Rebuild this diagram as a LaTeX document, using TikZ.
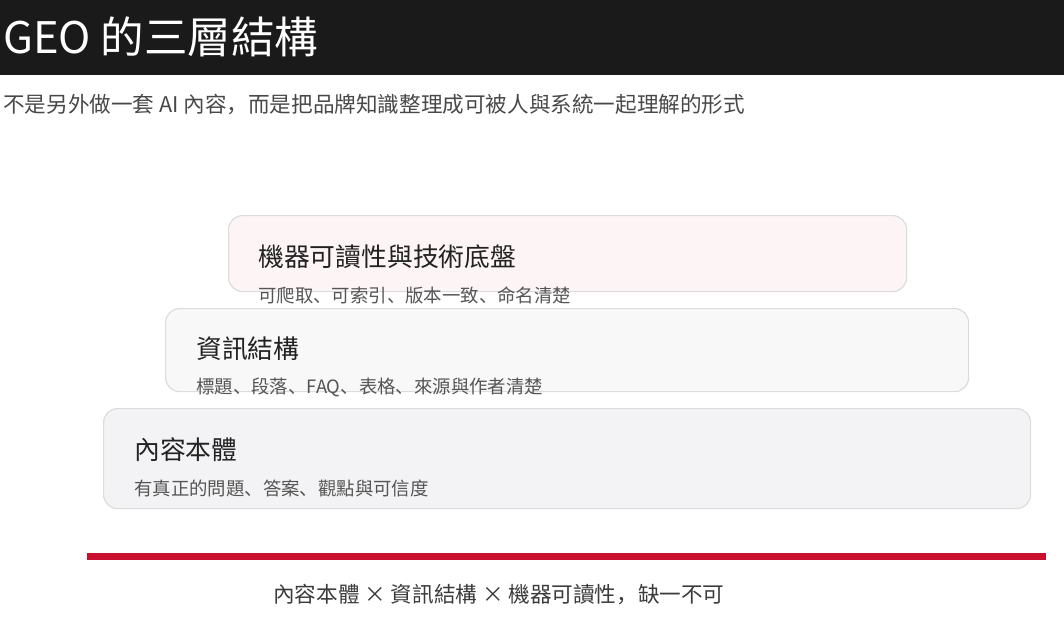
\documentclass[tikz,border=0pt]{standalone}
\usepackage{fontspec}
\setmainfont{Noto Sans CJK SC}
\usepackage{tikz}
\usetikzlibrary{positioning}

\definecolor{barblack}{HTML}{1A1A1A}
\definecolor{titlegray}{HTML}{222222}
\definecolor{notegray}{HTML}{555555}
\definecolor{edgegray}{HTML}{DCDCDC}
\definecolor{topfill}{HTML}{FDF4F5}
\definecolor{midfill}{HTML}{F8F8F8}
\definecolor{lowfill}{HTML}{F3F3F5}
\definecolor{accentred}{HTML}{C8102E}

\begin{document}
\begin{tikzpicture}[x=1pt,y=-1pt,
                    layer box/.style={draw=edgegray,line width=1.2pt,rounded corners=14pt,anchor=north west,inner sep=0pt},
                    layer title/.style={anchor=west,inner sep=0pt,text=titlegray,font=\fontsize{25.8}{30}\selectfont},
                    layer note/.style={anchor=west,inner sep=0pt,text=notegray,font=\fontsize{18.4}{22}\selectfont}]

  \useasboundingbox (0,0) rectangle (1064,631);

  % header
  \fill[barblack] (0,0) rectangle (1064,75);
  \node[anchor=west,inner sep=0pt,text=white,font=\fontsize{43.5}{50}\selectfont] (title) at (3,37) {GEO 的三層結構};
  \node[anchor=west,inner sep=0pt,text=notegray!85!black,font=\fontsize{21.6}{26}\selectfont] (lead) at (3,105)
    {不是另外做一套 AI 內容，而是把品牌知識整理成可被人與系統一起理解的形式};

  % three layers, top one first
  \node[layer box,fill=topfill,minimum width=678pt,minimum height=76pt] (b1) at (228,215) {};
  \node[layer title] (t1) at (258,257) {機器可讀性與技術底盤};
  \node[layer note] (n1) at (258,295) {可爬取、可索引、版本一致、命名清楚};

  \node[layer box,fill=midfill,minimum width=803pt,minimum height=83pt] (b2) at (165,308) {};
  \node[layer title] (t2) at (196,349) {資訊結構};
  \node[layer note] (n2) at (196,387) {標題、段落、FAQ、表格、來源與作者清楚};

  \node[layer box,fill=lowfill,minimum width=927pt,minimum height=100pt] (b3) at (103,408) {};
  \node[layer title] (t3) at (134,450) {內容本體};
  \node[layer note] (n3) at (134,488) {有真正的問題、答案、觀點與可信度};

  % bottom rule and summary
  \fill[accentred] (87,553) rectangle (1046,560);
  \node[anchor=west,inner sep=0pt,text=notegray!70!black,font=\fontsize{21.6}{26}\selectfont] (sum) at (273,595)
    {內容本體 × 資訊結構 × 機器可讀性，缺一不可};
\end{tikzpicture}
\end{document}
